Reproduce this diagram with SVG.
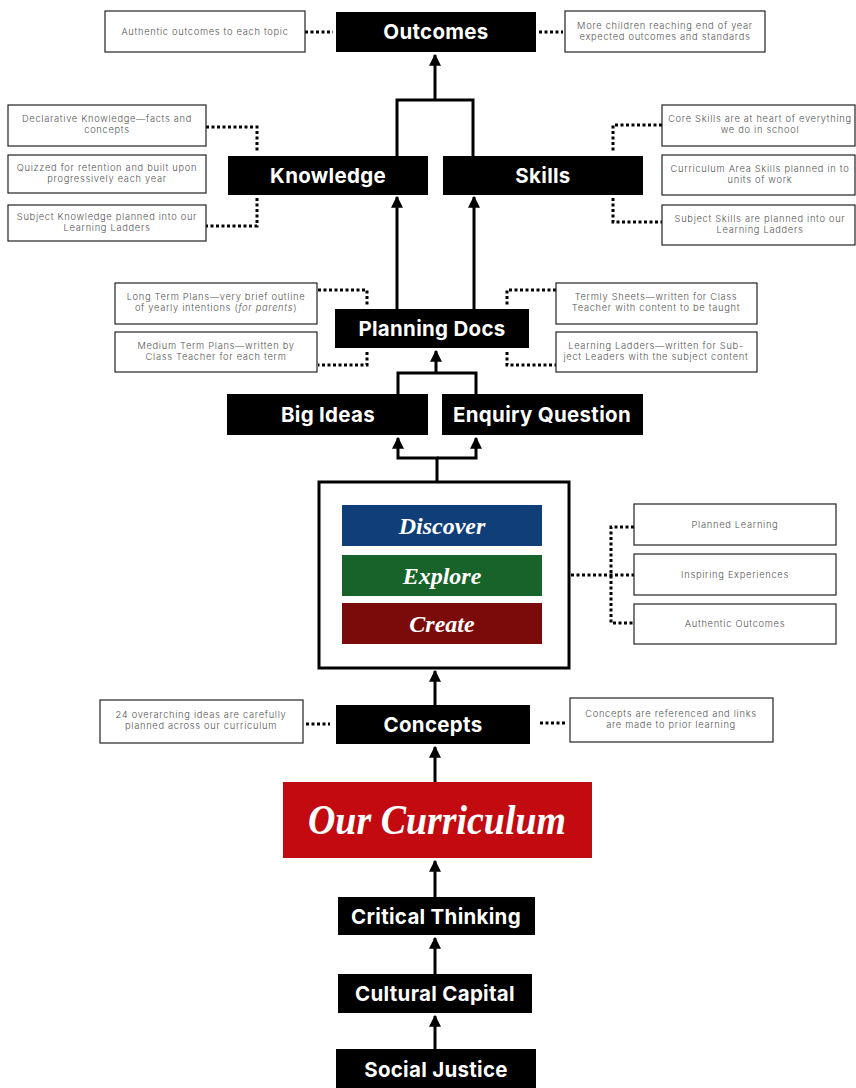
<svg xmlns="http://www.w3.org/2000/svg" width="856" height="1088" viewBox="0 0 856 1088">
<defs>
<marker id="ah" viewBox="0 0 10 10" refX="9" refY="5" markerWidth="4" markerHeight="4" orient="auto" markerUnits="strokeWidth">
<path d="M0,0 L10,5 L0,10 z" fill="#000"/>
</marker>
<style>
.bk{fill:#000}
.bt{font-family:Inter,"Open Sans","Liberation Sans",sans-serif;font-weight:700;font-size:20.5px;letter-spacing:0.3px;fill:#fff;text-anchor:middle}
.nb{fill:#fff;stroke:#222;stroke-width:1.2}
.st{font-family:Inter,"Liberation Sans",sans-serif;font-weight:300;font-size:9.3px;letter-spacing:0.7px;fill:#555;text-anchor:middle}
.ln{fill:none;stroke:#000;stroke-width:3}
.dt{fill:none;stroke:#000;stroke-width:3;stroke-dasharray:3 2.5}
.sc{font-family:"Liberation Serif","DejaVu Serif",serif;font-style:italic;font-weight:700;fill:#fff;text-anchor:middle}
</style>
</defs>
<rect width="856" height="1088" fill="#fff"/>

<g id="connectors">
<path class="dt" d="M305,32 H333"/>
<path class="dt" d="M539,32 H563"/>
<path class="ln" d="M435,100 V55" marker-end="url(#ah)"/>
<path class="ln" d="M397,156 V100 H473 V156"/>
<path class="dt" d="M206,127 H257 V152"/>
<path class="dt" d="M257,198 V226 H206"/>
<path class="dt" d="M662,125 H613 V152"/>
<path class="dt" d="M613,198 V222 H662"/>
<path class="ln" d="M397,309 V197" marker-end="url(#ah)"/>
<path class="ln" d="M474,309 V197" marker-end="url(#ah)"/>
<path class="dt" d="M318,290 H367 V306"/>
<path class="dt" d="M367,352 V365 H318"/>
<path class="dt" d="M556,290 H507 V306"/>
<path class="dt" d="M507,352 V365 H556"/>
<path class="ln" d="M436,373 V351" marker-end="url(#ah)"/>
<path class="ln" d="M398,394 V373 H476 V394"/>
<path class="ln" d="M437,481 V458 H398 V438" marker-end="url(#ah)"/>
<path class="ln" d="M437,458 H476 V438" marker-end="url(#ah)"/>
<path class="dt" d="M571,575 H634"/>
<path class="dt" d="M634,527 H611 V623 H634"/>
<path class="ln" d="M435,705 V671" marker-end="url(#ah)"/>
<path class="dt" d="M306,724 H330"/>
<path class="dt" d="M540,723 H566"/>
<path class="ln" d="M435,782 V747" marker-end="url(#ah)"/>
<path class="ln" d="M435,897 V861" marker-end="url(#ah)"/>
<path class="ln" d="M435,974 V938" marker-end="url(#ah)"/>
<path class="ln" d="M435,1049 V1016" marker-end="url(#ah)"/>
</g>

<g id="outcomes"><rect class="bk" x="336" y="12" width="200" height="40"/><text class="bt" x="436" y="39">Outcomes</text></g>
<g id="note-authentic-topic"><rect class="nb" x="105" y="11" width="200" height="41"/><text class="st" x="205" y="35">Authentic outcomes to each topic</text></g>
<g id="note-more-children"><rect class="nb" x="565" y="11" width="200" height="41"/><text class="st" x="665" y="29">More children reaching end of year</text><text class="st" x="665" y="40">expected outcomes and standards</text></g>

<g id="knowledge"><rect class="bk" x="228" y="156" width="200" height="39"/><text class="bt" x="328" y="183">Knowledge</text></g>
<g id="skills"><rect class="bk" x="443" y="156" width="200" height="39"/><text class="bt" x="543" y="183">Skills</text></g>

<g id="note-declarative"><rect class="nb" x="8" y="105" width="198" height="41"/><text class="st" x="107" y="122">Declarative Knowledge—facts and</text><text class="st" x="107" y="133">concepts</text></g>
<g id="note-quizzed"><rect class="nb" x="8" y="155" width="198" height="38"/><text class="st" x="107" y="171">Quizzed for retention and built upon</text><text class="st" x="107" y="182">progressively each year</text></g>
<g id="note-subject-knowledge"><rect class="nb" x="8" y="205" width="198" height="36"/><text class="st" x="107" y="220">Subject Knowledge planned into our</text><text class="st" x="107" y="231">Learning Ladders</text></g>

<g id="note-core-skills"><rect class="nb" x="662" y="105" width="193" height="41"/><text class="st" x="760" y="122">Core Skills are at heart of everything</text><text class="st" x="760" y="133">we do in school</text></g>
<g id="note-curriculum-skills"><rect class="nb" x="662" y="155" width="193" height="40"/><text class="st" x="760" y="172">Curriculum Area Skills planned in to</text><text class="st" x="760" y="183">units of work</text></g>
<g id="note-subject-skills"><rect class="nb" x="662" y="205" width="193" height="40"/><text class="st" x="760" y="222">Subject Skills are planned into our</text><text class="st" x="760" y="233">Learning Ladders</text></g>

<g id="planning-docs"><rect class="bk" x="335" y="309" width="194" height="39"/><text class="bt" x="432" y="336">Planning Docs</text></g>
<g id="note-long-term"><rect class="nb" x="115" y="283" width="202" height="41"/><text class="st" x="216" y="300">Long Term Plans—very brief outline</text><text class="st" x="216" y="311">of yearly intentions (<tspan font-style="italic">for parents</tspan>)</text></g>
<g id="note-medium-term"><rect class="nb" x="115" y="332" width="202" height="40"/><text class="st" x="216" y="349">Medium Term Plans—written by</text><text class="st" x="216" y="360">Class Teacher for each term</text></g>
<g id="note-termly"><rect class="nb" x="556" y="283" width="201" height="41"/><text class="st" x="656" y="300">Termly Sheets—written for Class</text><text class="st" x="656" y="311">Teacher with content to be taught</text></g>
<g id="note-learning-ladders"><rect class="nb" x="556" y="332" width="201" height="40"/><text class="st" x="656" y="349">Learning Ladders—written for Sub-</text><text class="st" x="656" y="360">ject Leaders with the subject content</text></g>

<g id="big-ideas"><rect class="bk" x="227" y="394" width="201" height="41"/><text class="bt" x="328" y="422">Big Ideas</text></g>
<g id="enquiry-question"><rect class="bk" x="442" y="394" width="201" height="41"/><text class="bt" x="542" y="422">Enquiry Question</text></g>

<g id="dec-model">
<rect x="319" y="482" width="250" height="186" fill="#fff" stroke="#000" stroke-width="3"/>
<rect x="342" y="505" width="200" height="41" fill="#0f3e78"/>
<text class="sc" x="442" y="534" font-size="24">Discover</text>
<rect x="342" y="555" width="200" height="41" fill="#176329"/>
<text class="sc" x="442" y="584" font-size="24">Explore</text>
<rect x="342" y="603" width="200" height="41" fill="#7b0a0a"/>
<text class="sc" x="442" y="632" font-size="24">Create</text>
</g>
<g id="note-planned-learning"><rect class="nb" x="634" y="504" width="202" height="41"/><text class="st" x="735" y="528">Planned Learning</text></g>
<g id="note-inspiring"><rect class="nb" x="634" y="554" width="202" height="41"/><text class="st" x="735" y="578">Inspiring Experiences</text></g>
<g id="note-authentic-outcomes"><rect class="nb" x="634" y="604" width="202" height="40"/><text class="st" x="735" y="627">Authentic Outcomes</text></g>

<g id="concepts"><rect class="bk" x="336" y="705" width="194" height="39"/><text class="bt" x="433" y="732">Concepts</text></g>
<g id="note-24-ideas"><rect class="nb" x="100" y="700" width="203" height="43"/><text class="st" x="201" y="718">24 overarching ideas are carefully</text><text class="st" x="201" y="729">planned across our curriculum</text></g>
<g id="note-referenced"><rect class="nb" x="570" y="698" width="203" height="44"/><text class="st" x="671" y="717">Concepts are referenced and links</text><text class="st" x="671" y="728">are made to prior learning</text></g>

<g id="our-curriculum"><rect x="283" y="782" width="309" height="76" fill="#c20a10"/><text class="sc" x="437" y="834" font-size="42" textLength="258" lengthAdjust="spacingAndGlyphs">Our Curriculum</text></g>

<g id="critical-thinking"><rect class="bk" x="338" y="897" width="197" height="38"/><text class="bt" x="436" y="924">Critical Thinking</text></g>
<g id="cultural-capital"><rect class="bk" x="338" y="974" width="194" height="39"/><text class="bt" x="435" y="1001">Cultural Capital</text></g>
<g id="social-justice"><rect class="bk" x="336" y="1049" width="200" height="39"/><text class="bt" x="436" y="1077">Social Justice</text></g>
</svg>
